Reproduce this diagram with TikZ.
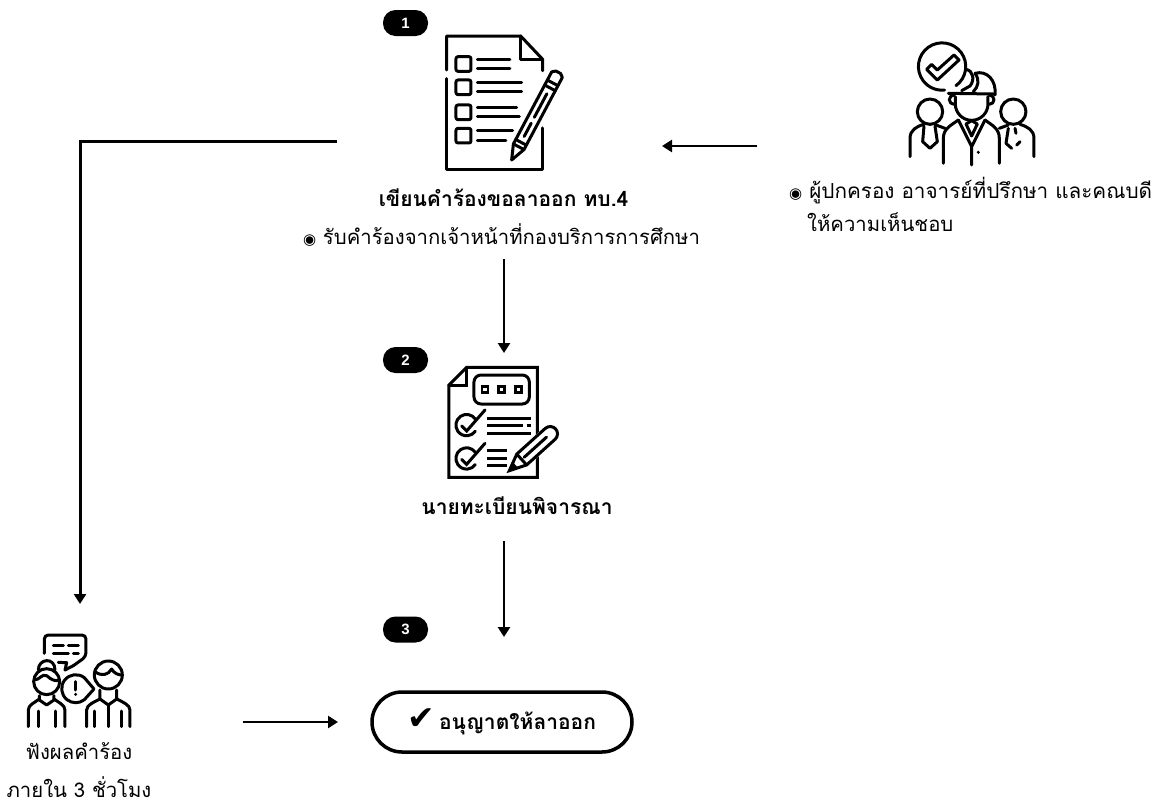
\documentclass[tikz,border=0pt]{standalone}
\usepackage{fontspec}
\setmainfont{Liberation Sans}
\newfontfamily\thaifont[Script=Thai]{Loma}
\newfontfamily\symfont{DejaVu Sans}
\usetikzlibrary{arrows.meta}
\tikzset{
  x=1pt,y=-1pt,
  flow/.style={line width=2.5pt,-{Triangle[length=10pt,width=12pt]}},
  badge/.style={fill=black,text=white,rounded corners=12.5pt,minimum width=45pt,minimum height=26pt,inner sep=0pt,font=\fontsize{15}{15}\selectfont\bfseries},
  ic/.style={line width=3pt,line cap=round,line join=round},
  zoomed/.style={x=0.3333pt,y=-0.3333pt},
  lbl/.style={font=\fontsize{20.3}{20}\thaifont,inner sep=0pt,anchor=base},
  blbl/.style={font=\fontsize{21}{21}\thaifont\bfseries,inner sep=0pt,anchor=base}
}
\begin{document}
\begin{tikzpicture}
\useasboundingbox (0,0) rectangle (1165,804);
% badges
\node[badge] (b1) at (405.5,23) {1};
\node[badge] (b2) at (405.5,360) {2};
\node[badge] (b3) at (405.5,629.5) {3};
% icon 1
\begin{scope}[shift={(370,0)},zoomed]
\draw[ic] (230,210) -- (230,108) -- (452,108) -- (518,178) -- (518,212);
\draw[ic] (230,236) -- (230,508) -- (518,508) -- (518,384);
\draw[ic] (452,108) -- (452,178) -- (518,178);
\foreach \yy/\la/\lb in {192/420/420,262/455/455,337/440/448,407/428/408}{
  \draw[ic,rounded corners=2pt] (258,\yy-22) rectangle (303,\yy+22);
  \draw[ic] (322,\yy-14) -- (\la,\yy-14);
  \draw[ic] (322,\yy+14) -- (\lb,\yy+14);
}
\begin{scope}[shift={(425,480)},rotate=-28]
  \draw[ic] (-18,-45) -- (-18,-290) -- (-8,-298) -- (8,-298) -- (18,-290) -- (18,-45) -- (0,0) -- cycle;
  \draw[ic] (-18,-45) -- (18,-45);
  \draw[ic] (-18,-60) -- (18,-60);
  \draw[ic] (-18,-245) -- (18,-245);
  \draw[ic] (-18,-262) -- (18,-262);
  \draw[ic] (0,-80) -- (0,-125);
  \draw[ic] (0,-145) -- (0,-225);
\end{scope}
\end{scope}
% icon 2
\begin{scope}[shift={(370,340)},zoomed]
\draw[ic,line cap=butt,line join=miter] (290,82) -- (502,82) -- (502,412) -- (237,412) -- (237,135) -- cycle;
\draw[ic,line join=miter] (290,82) -- (290,135) -- (237,135);
\draw[ic,rounded corners=7pt] (312,105) rectangle (478,192);
\foreach \xx in {345,395,445}{\draw[line width=2.5pt] (\xx-9,139) rectangle (\xx+9,157);}
\foreach \yy in {255,355}{
  \draw[ic] (316,\yy-18) arc[start angle=-35,end angle=-325,radius=32];
  \draw[ic,line join=miter] (275,\yy+3) -- (290,\yy+18) -- (345,\yy-45);
}
\draw[line width=3pt] (352,235) -- (482,235);
\draw[line width=3pt] (352,257) -- (460,257) (472,257) -- (482,257);
\draw[line width=3pt] (352,280) -- (482,280);
\draw[line width=3pt] (352,332) -- (410,332) (352,355) -- (410,355) (352,378) -- (410,378);
\begin{scope}[shift={(418,392)},rotate=-48]
  \draw[draw=white,fill=white] (-26,-40) rectangle (26,-170);
  \draw[ic,line join=miter] (0,0) -- (-22,-50) -- (-22,-165) arc[start angle=180,end angle=360,radius=22] -- (22,-50) -- cycle;
  \draw[ic] (-22,-50) -- (22,-50);
  \draw[ic] (0,-60) -- (0,-150);
  \fill (0,0) -- (-11,-25) -- (11,-25) -- cycle;
\end{scope}
\end{scope}
% icon 3 group
\begin{scope}[shift={(880,30)},zoomed]
\draw[ic] (228,167) arc[start angle=54,end angle=-276,radius=71];
\draw[ic] (140,118) -- (155,103) -- (172,120) -- (222,75) -- (237,90) -- (172,150) -- cycle;
\draw[ic] (258,118) .. controls (280,122) and (285,150) .. (270,168) -- (245,182);
\draw[ic] (285,130) .. controls (320,120) and (350,150) .. (345,195);
\draw[ic] (285,130) .. controls (300,150) and (295,170) .. (280,185);
\draw[ic] (205,190) -- (340,192);
\draw[ic] (226,200) -- (226,222) arc[start angle=180,end angle=0,radius=49] -- (324,200);
\draw[ic] (222,195) arc[start angle=270,end angle=90,radius=14];
\draw[ic] (328,195) arc[start angle=-90,end angle=90,radius=14];
\draw[ic] (150,245) circle (38);
\draw[ic] (400,245) circle (38);
\draw[ic] (90,380) -- (90,325) .. controls (90,300) and (110,290) .. (130,283);
\draw[ic] (462,380) -- (462,325) .. controls (462,300) and (442,290) .. (420,283);
\draw[ic] (190,400) -- (190,325) .. controls (190,295) and (215,285) .. (235,270);
\draw[ic] (358,400) -- (358,325) .. controls (358,295) and (335,285) .. (315,270);
\draw[ic] (235,270) -- (275,350) -- (315,270) (275,350) -- (275,405);
\draw[ic] (258,282) -- (275,272) -- (292,282) -- (275,318) -- cycle;
\draw[ic] (132,288) -- (128,335) -- (150,355) -- (172,335) -- (165,288);
\draw[ic] (168,285) -- (195,295) (358,295) -- (385,285);
\draw[ic] (385,295) -- (378,340) -- (395,355);
\draw[ic] (405,295) -- (408,310) (420,335) -- (410,345);
\fill (295,367) circle (5);
\end{scope}
% icon 4 pair
\begin{scope}[shift={(10,625)},zoomed]
\draw[ic,rounded corners=4pt] (103,85) -- (103,30) -- (228,30) -- (228,95) -- (190,122);
\draw[ic] (190,122) -- (165,135) -- (170,113) -- (145,112);
\draw[ic] (130,62) -- (160,62) (175,62) -- (205,62) (130,85) -- (175,85) (190,85) -- (205,85);
\draw[ic] (110,170) circle (39);
\draw[ic] (85,135) .. controls (85,100) and (135,95) .. (135,135);
\draw[ic] (72,165) .. controls (90,165) and (95,145) .. (110,152) .. controls (125,165) and (135,170) .. (149,165);
\draw[ic] (55,305) -- (55,255) .. controls (55,240) and (75,232) .. (88,222);
\draw[ic] (165,305) -- (165,255) .. controls (165,240) and (145,232) .. (132,222);
\draw[ic] (85,305) -- (85,258) (138,305) -- (138,258);
\draw[ic] (88,212) -- (88,225) -- (110,240) -- (132,225) -- (132,212);
\draw[ic] (223,158) arc[start angle=-52,end angle=-308,radius=42] -- (252,192) -- cycle;
\draw[ic] (197,170) -- (197,195);
\fill (197,208) circle (5);
\draw[ic] (295,150) circle (42);
\draw[ic] (255,140) .. controls (275,155) and (295,150) .. (305,132) .. controls (312,145) and (325,150) .. (336,150);
\draw[ic] (230,305) -- (230,255) .. controls (230,240) and (250,232) .. (270,222);
\draw[ic] (360,305) -- (360,255) .. controls (360,240) and (340,232) .. (320,222);
\draw[ic] (255,305) -- (255,258) (335,305) -- (335,258);
\draw[ic] (270,195) -- (270,222) -- (295,240) -- (320,222) -- (320,195);
\draw[ic] (295,240) -- (295,305);
\end{scope}
% labels
\node[blbl] (t1) at (503.5,206) {เขียนคำร้องขอลาออก ทบ.4};
\node[lbl] (t2) at (501.5,244) {{\symfont\fontsize{15}{15}\selectfont ◉} รับคำร้องจากเจ้าหน้าที่กองบริการการศึกษา};
\node[lbl,anchor=base west,font=\fontsize{20.7}{20}\thaifont] (t3) at (789,198) {{\symfont\fontsize{15}{15}\selectfont ◉} ผู้ปกครอง อาจารย์ที่ปรึกษา และคณบดี};
\node[lbl,anchor=base west] (t4) at (807,231) {ให้ความเห็นชอบ};
\node[blbl] (t5) at (517,514) {นายทะเบียนพิจารณา};
\node[lbl] (t6) at (79,759) {ฟังผลคำร้อง};
\node[lbl] (t7) at (79,797) {ภายใน 3 ชั่วโมง};
\node[draw,line width=3.5pt,rounded corners=30pt,minimum width=260pt,minimum height=60pt,inner sep=0pt,font=\fontsize{21}{21}\thaifont\bfseries] (ok) at (502,722) {{\symfont\bfseries\fontsize{33}{21}\selectfont ✔}\,อนุญาตให้ลาออก};
% connectors
\coordinate (c1a) at (337,141);
\coordinate (c1b) at (80,141);
\coordinate (c1c) at (80,604);
\coordinate (c2a) at (757,146);
\coordinate (c2b) at (662,146);
\coordinate (c3a) at (504,259);
\coordinate (c3b) at (504,353);
\coordinate (c4a) at (504,541);
\coordinate (c4b) at (504,637);
\coordinate (c5a) at (243,722);
\coordinate (c5b) at (338,722);
\draw[flow,line width=3pt] (c1a) -- (c1b) -- (c1c);
\draw[flow] (c2a) -- (c2b);
\draw[flow] (c3a) -- (c3b);
\draw[flow] (c4a) -- (c4b);
\draw[flow] (c5a) -- (c5b);
\end{tikzpicture}
\end{document}
